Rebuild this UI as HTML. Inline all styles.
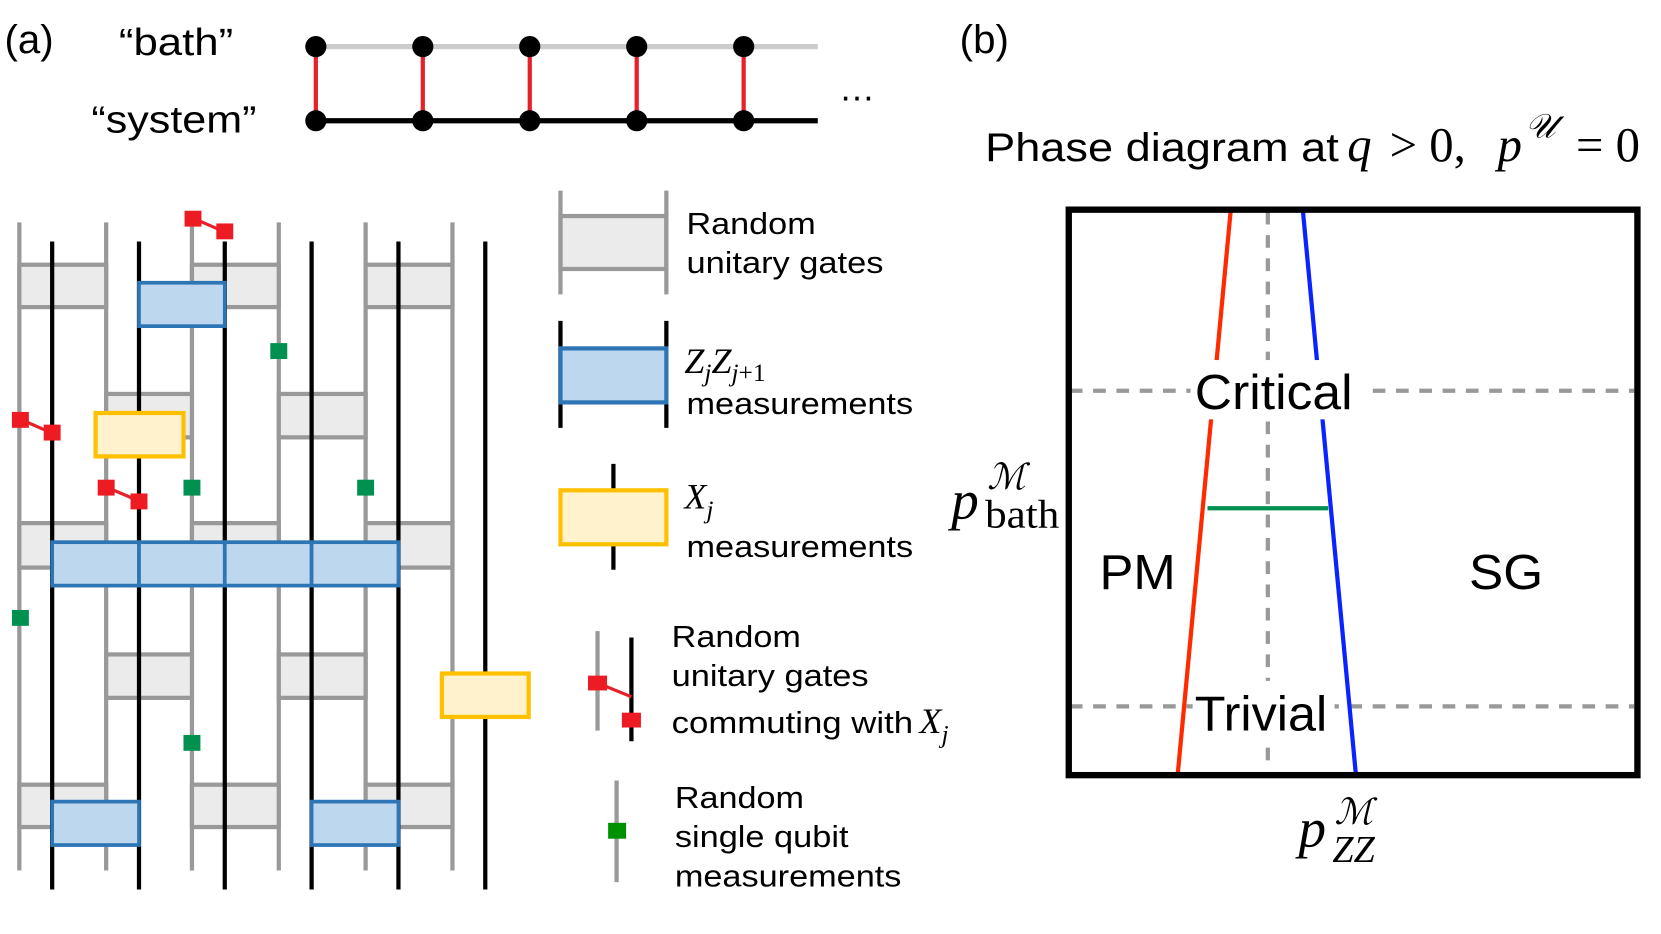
<!DOCTYPE html>
<html><head><meta charset="utf-8"><style>
html,body{margin:0;padding:0;background:#fff;}
svg{display:block;}
text{font-family:"Liberation Sans",sans-serif;fill:#000;}
.m{font-family:"Liberation Serif",serif;font-style:italic;}
.r{font-family:"Liberation Serif",serif;}
</style></head><body>
<svg width="1661" height="934" viewBox="0 0 1568 882" xmlns="http://www.w3.org/2000/svg">
<rect width="1568" height="882" fill="#fff"/>
<text x="4" y="50" font-size="38">(a)</text>
<text x="112" y="52" font-size="36" textLength="108" lengthAdjust="spacingAndGlyphs">“bath”</text>
<text x="86" y="125" font-size="36" textLength="156" lengthAdjust="spacingAndGlyphs">“system”</text>
<line x1="298" y1="44" x2="772" y2="44" stroke="#cccccc" stroke-width="5"/>
<line x1="298" y1="114" x2="772" y2="114" stroke="#000" stroke-width="5"/>
<g stroke="#e8202a" stroke-width="4">
<line x1="298" y1="44" x2="298" y2="114"/><line x1="399" y1="44" x2="399" y2="114"/><line x1="500" y1="44" x2="500" y2="114"/><line x1="601" y1="44" x2="601" y2="114"/><line x1="702" y1="44" x2="702" y2="114"/>
</g>
<g fill="#000">
<circle cx="298" cy="44" r="10"/><circle cx="399" cy="44" r="10"/><circle cx="500" cy="44" r="10"/><circle cx="601" cy="44" r="10"/><circle cx="702" cy="44" r="10"/>
<circle cx="298" cy="114" r="10"/><circle cx="399" cy="114" r="10"/><circle cx="500" cy="114" r="10"/><circle cx="601" cy="114" r="10"/><circle cx="702" cy="114" r="10"/>
</g>
<text x="792" y="95" font-size="34">…</text>

<g stroke="#999" stroke-width="4">
<line x1="18" y1="210" x2="18" y2="822"/><line x1="100" y1="210" x2="100" y2="822"/><line x1="181" y1="210" x2="181" y2="822"/><line x1="263" y1="210" x2="263" y2="822"/><line x1="345" y1="210" x2="345" y2="822"/><line x1="427" y1="210" x2="427" y2="822"/>
</g>
<g fill="#ebebeb" stroke="#999" stroke-width="4">
<rect x="18" y="250" width="82" height="40"/><rect x="181" y="250" width="82" height="40"/><rect x="345" y="250" width="82" height="40"/>
<rect x="100" y="372" width="81" height="41"/><rect x="263" y="372" width="82" height="41"/>
<rect x="18" y="494" width="82" height="42"/><rect x="181" y="494" width="82" height="42"/><rect x="345" y="494" width="82" height="42"/>
<rect x="100" y="618" width="81" height="41"/><rect x="263" y="618" width="82" height="41"/>
<rect x="18" y="741" width="82" height="40"/><rect x="181" y="741" width="82" height="40"/><rect x="345" y="741" width="82" height="40"/>
</g>
<g stroke="#000" stroke-width="4">
<line x1="49" y1="228" x2="49" y2="840"/><line x1="131" y1="228" x2="131" y2="840"/><line x1="212" y1="228" x2="212" y2="840"/><line x1="294" y1="228" x2="294" y2="840"/><line x1="376" y1="228" x2="376" y2="840"/><line x1="458" y1="228" x2="458" y2="840"/>
</g>
<g fill="#bdd7ee" stroke="#2e75b6" stroke-width="3.5">
<rect x="131" y="267" width="81" height="41"/>
<rect x="49" y="512" width="82" height="41"/><rect x="131" y="512" width="81" height="41"/><rect x="212" y="512" width="82" height="41"/><rect x="294" y="512" width="82" height="41"/>
<rect x="49" y="757" width="82" height="41"/><rect x="294" y="757" width="82" height="41"/>
</g>
<g fill="#fff2cc" stroke="#ffc000" stroke-width="4">
<rect x="90" y="390" width="83" height="41"/><rect x="417" y="636" width="82" height="41"/>
</g>
<g stroke="#e8202a" stroke-width="3">
<line x1="182" y1="206" x2="212" y2="219"/><line x1="19" y1="396" x2="49" y2="409"/><line x1="100" y1="460" x2="131" y2="473"/>
</g>
<g fill="#ed1c24">
<rect x="174" y="199" width="16" height="15"/><rect x="204" y="211" width="16" height="15"/>
<rect x="11" y="389" width="16" height="15"/><rect x="41" y="401" width="16" height="15"/>
<rect x="92" y="453" width="16" height="15"/><rect x="123" y="466" width="16" height="15"/>
</g>
<g fill="#009150">
<rect x="255" y="324" width="16" height="15"/><rect x="173" y="453" width="16" height="15"/><rect x="337" y="453" width="16" height="15"/><rect x="11" y="576" width="16" height="15"/><rect x="173" y="694" width="16" height="15"/>
</g>

<rect x="529" y="204" width="100" height="50" fill="#ebebeb" stroke="#999" stroke-width="4"/>
<line x1="529" y1="180" x2="529" y2="278" stroke="#999" stroke-width="4"/><line x1="629" y1="180" x2="629" y2="278" stroke="#999" stroke-width="4"/>
<text x="648" y="221" font-size="29" textLength="122" lengthAdjust="spacingAndGlyphs">Random</text><text x="648" y="258" font-size="29" textLength="186" lengthAdjust="spacingAndGlyphs">unitary gates</text>

<line x1="529" y1="303" x2="529" y2="404" stroke="#000" stroke-width="4"/><line x1="629" y1="303" x2="629" y2="404" stroke="#000" stroke-width="4"/>
<rect x="529" y="329" width="100" height="51" fill="#bdd7ee" stroke="#2e75b6" stroke-width="4"/>
<text x="646" y="352" font-size="34" class="m">Z<tspan font-size="24" dy="8">j</tspan><tspan dy="-8">Z</tspan><tspan font-size="24" dy="8">j</tspan><tspan font-size="24" class="r" font-style="normal">+1</tspan></text>
<text x="648" y="391" font-size="29" textLength="214" lengthAdjust="spacingAndGlyphs">measurements</text>

<line x1="579" y1="438" x2="579" y2="538" stroke="#000" stroke-width="4"/>
<rect x="529" y="463" width="100" height="51" fill="#fff2cc" stroke="#ffc000" stroke-width="4"/>
<text x="646" y="480" font-size="34" class="m">X<tspan font-size="24" dy="9">j</tspan></text>
<text x="648" y="526" font-size="29" textLength="214" lengthAdjust="spacingAndGlyphs">measurements</text>

<line x1="564" y1="596" x2="564" y2="690" stroke="#999" stroke-width="4"/>
<line x1="596" y1="602" x2="596" y2="700" stroke="#000" stroke-width="4"/>
<line x1="564" y1="645" x2="596" y2="658" stroke="#e8202a" stroke-width="3"/>
<rect x="555" y="638" width="18" height="14" fill="#ed1c24"/><rect x="587" y="673" width="18" height="14" fill="#ed1c24"/>
<text x="634" y="611" font-size="29" textLength="122" lengthAdjust="spacingAndGlyphs">Random</text><text x="634" y="648" font-size="29" textLength="186" lengthAdjust="spacingAndGlyphs">unitary gates</text>
<text x="634" y="692" font-size="29" textLength="228" lengthAdjust="spacingAndGlyphs">commuting with</text>
<text x="868" y="692" font-size="34" class="m">X<tspan font-size="24" dy="9">j</tspan></text>

<line x1="582" y1="737" x2="582" y2="833" stroke="#999" stroke-width="4"/>
<rect x="574" y="777" width="17" height="15" fill="#009100"/>
<text x="637" y="763" font-size="29" textLength="122" lengthAdjust="spacingAndGlyphs">Random</text><text x="637" y="800" font-size="29" textLength="164" lengthAdjust="spacingAndGlyphs">single qubit</text><text x="637" y="837" font-size="29" textLength="214" lengthAdjust="spacingAndGlyphs">measurements</text>

<text x="906" y="50" font-size="38">(b)</text>
<text x="930" y="152" font-size="38" textLength="334" lengthAdjust="spacingAndGlyphs">Phase diagram at</text>
<text x="1272" y="152" font-size="46" class="m">q</text>
<text x="1312" y="152" font-size="46" class="r">&gt; 0,</text>
<text x="1414" y="152" font-size="46" class="m">p</text>
<text x="1440" y="130" font-size="32" class="m">𝒰</text>
<text x="1488" y="152" font-size="46" class="r">= 0</text>

<g stroke="#999" stroke-width="4" stroke-dasharray="12,10">
<line x1="1197" y1="200" x2="1197" y2="728"/>
<line x1="1010" y1="369" x2="1543" y2="369"/>
<line x1="1010" y1="667" x2="1543" y2="667"/>
</g>
<line x1="1162" y1="198" x2="1112" y2="730" stroke="#ff2a00" stroke-width="4"/>
<line x1="1230" y1="198" x2="1280" y2="730" stroke="#0a24ff" stroke-width="4"/>
<line x1="1140" y1="480" x2="1254" y2="480" stroke="#009150" stroke-width="4"/>
<rect x="1124" y="340" width="172" height="56" fill="#fff"/>
<rect x="1126" y="643" width="134" height="54" fill="#fff"/>
<line x1="1262" y1="640" x2="1280" y2="730" stroke="#0a24ff" stroke-width="0"/>
<text x="1128" y="386" font-size="46" textLength="149" lengthAdjust="spacingAndGlyphs">Critical</text>
<text x="1128" y="690" font-size="46" textLength="125" lengthAdjust="spacingAndGlyphs">Trivial</text>
<text x="1038" y="556" font-size="46" textLength="72" lengthAdjust="spacingAndGlyphs">PM</text>
<text x="1387" y="556" font-size="46" textLength="70" lengthAdjust="spacingAndGlyphs">SG</text>
<rect x="1009" y="198" width="537" height="534" fill="none" stroke="#000" stroke-width="6"/>

<text x="898" y="490" font-size="52" class="m">p</text>
<text x="932" y="462" font-size="34" class="m">ℳ</text>
<text x="930" y="498" font-size="38" class="r" textLength="70" lengthAdjust="spacingAndGlyphs">bath</text>
<text x="1226" y="800" font-size="52" class="m">p</text>
<text x="1260" y="778" font-size="34" class="m">ℳ</text>
<text x="1258" y="814" font-size="36" class="m" textLength="40" lengthAdjust="spacingAndGlyphs">ZZ</text>
</svg>
</body></html>
